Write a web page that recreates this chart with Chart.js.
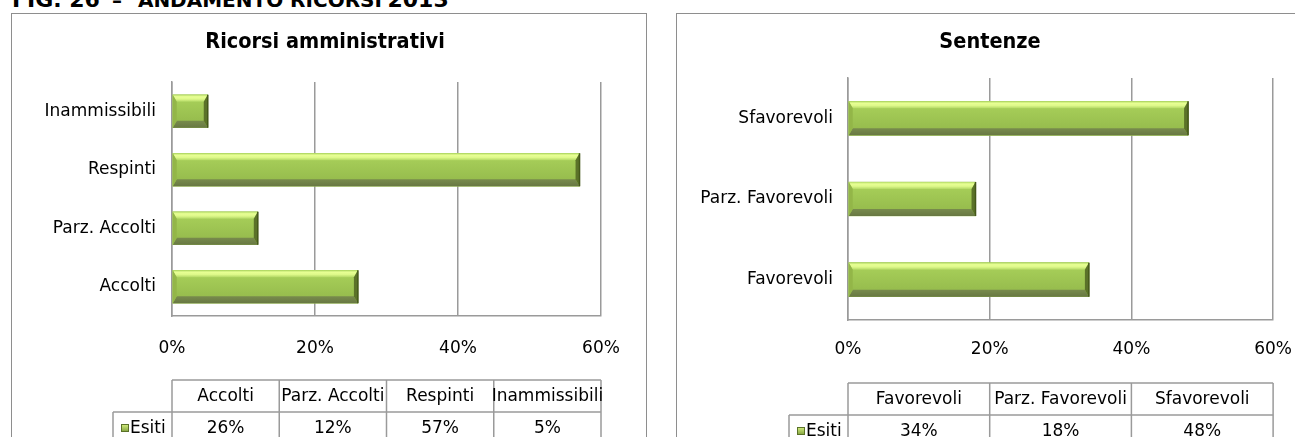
<!DOCTYPE html>
<html lang="it">
<head>
<meta charset="UTF-8">
<title>Andamento ricorsi 2013</title>
<style>
  html, body { margin: 0; padding: 0; width: 1295px; height: 437px; overflow: hidden; background: #fff; }
  .heading {
    position: absolute; left: 12px; top: -11px; line-height: 21px;
    font-family: "DejaVu Sans", sans-serif; font-weight: bold; white-space: nowrap; color: #000;
  }
  .heading .big { font-size: 22px; }
  .heading .small { font-size: 20px; }
  .heading .dash { margin-left: 12px; }
  .heading .caps { margin-left: 16px; }
  .box { position: absolute; top: 13px; width: 634px; height: 440px; border: 1px solid #8e8e8e; }
  #boxLeft { left: 11px; }
  #boxRight { left: 676px; }
  canvas { display: block; }
</style>
</head>
<body>
  <div class="heading"><span class="big">FIG. 26</span><span class="small dash">–</span><span class="small caps">ANDAMENTO RICORSI</span> <span class="big">2013</span></div>
  <div class="box" id="boxLeft"><canvas id="ricorsiChart" width="634" height="440"></canvas></div>
  <div class="box" id="boxRight"><canvas id="sentenzeChart" width="634" height="440"></canvas></div>

<script src="https://cdn.jsdelivr.net/npm/chart.js"></script>
<script>
  // values in percent
  const seriesName = 'Esiti';
  const ricorsiCategories = ['Accolti', 'Parz. Accolti', 'Respinti', 'Inammissibili'];
  const ricorsiValues = [26, 12, 57, 5];
  const sentenzeCategories = ['Favorevoli', 'Parz. Favorevoli', 'Sfavorevoli'];
  const sentenzeValues = [34, 18, 48];
  const axisTicks = [0, 20, 40, 60];

  const FONT = '"DejaVu Sans", sans-serif';
  const TITLE_FONT = '"DejaVu Sans Condensed", "DejaVu Sans", sans-serif';
  const GRID = '#9a9a9a';

  // chart title centred on the whole frame, not on the plot area
  const frameTitle = {
    id: 'frameTitle',
    afterDraw(chart, args, opts) {
      const ctx = chart.ctx;
      ctx.save();
      ctx.font = 'bold 21.5px ' + TITLE_FONT;
      ctx.fillStyle = '#000';
      ctx.textAlign = 'center';
      ctx.textBaseline = 'middle';
      ctx.fillText(opts.text, opts.x, opts.y);
      ctx.restore();
    }
  };

  // bevelled green bars, drawn over the plain bars Chart.js lays out
  const bevelBars = {
    id: 'bevelBars',
    afterDatasetsDraw(chart) {
      const ctx = chart.ctx;
      chart.getDatasetMeta(0).data.forEach(bar => {
        const p = bar.getProps(['x', 'y', 'base', 'height'], true);
        const x0 = p.base, x1 = p.x;
        const yt = p.y - p.height / 2, yb = p.y + p.height / 2;
        const bt = 7, bb = 7, bs = 4;
        ctx.save();

        let g = ctx.createLinearGradient(0, yt, 0, yb);
        g.addColorStop(0, '#aad25b');
        g.addColorStop(1, '#92b74a');
        ctx.fillStyle = g;
        ctx.fillRect(x0, yt, x1 - x0, yb - yt);

        const quad = (pts, fill) => {
          ctx.beginPath();
          ctx.moveTo(pts[0][0], pts[0][1]);
          for (let i = 1; i < pts.length; i++) ctx.lineTo(pts[i][0], pts[i][1]);
          ctx.closePath();
          ctx.fillStyle = fill;
          ctx.fill();
        };

        // top highlight
        g = ctx.createLinearGradient(0, yt, 0, yt + bt);
        g.addColorStop(0, '#b2da66');
        g.addColorStop(0.28, '#e8ff94');
        g.addColorStop(0.6, '#def98a');
        g.addColorStop(1, '#b3d865');
        quad([[x0, yt], [x1, yt], [x1 - bs, yt + bt], [x0 + bs, yt + bt]], g);
        // bottom shadow
        g = ctx.createLinearGradient(0, yb - bb, 0, yb);
        g.addColorStop(0, '#788b4c');
        g.addColorStop(1, '#687843');
        quad([[x0, yb], [x1, yb], [x1 - bs, yb - bb], [x0 + bs, yb - bb]], g);
        // right end
        quad([[x1, yt], [x1, yb], [x1 - bs, yb - bb], [x1 - bs, yt + bt]], '#5b7229');
        // left end
        quad([[x0, yt], [x0, yb], [x0 + bs, yb - bb], [x0 + bs, yt + bt]], '#93b648');

        ctx.strokeStyle = '#44571a';
        ctx.lineWidth = 1.5;
        ctx.beginPath();
        ctx.moveTo(x1, yt);
        ctx.lineTo(x1, yb);
        ctx.stroke();
        ctx.restore();
      });
    }
  };

  // data table under the axis, columns aligned with the plot area
  const dataTable = {
    id: 'dataTable',
    afterDraw(chart, args, opts) {
      const { ctx, chartArea } = chart;
      const labels = chart.data.labels;
      const values = chart.data.datasets[0].data;
      const n = labels.length;
      const colW = (chartArea.right - chartArea.left) / n;
      const top = opts.top, mid = opts.top + opts.rowH, bottom = mid + opts.rowH;

      ctx.save();
      ctx.strokeStyle = GRID;
      ctx.lineWidth = 1.5;
      const line = (ax, ay, bx, by) => {
        ctx.beginPath(); ctx.moveTo(ax, ay); ctx.lineTo(bx, by); ctx.stroke();
      };
      line(chartArea.left, top, chartArea.right, top);
      line(opts.labelLeft, mid, chartArea.right, mid);
      line(opts.labelLeft, bottom, chartArea.right, bottom);
      line(opts.labelLeft, mid, opts.labelLeft, bottom);
      for (let i = 0; i <= n; i++) {
        const x = chartArea.left + i * colW;
        line(x, top, x, bottom);
      }

      ctx.fillStyle = '#000';
      ctx.font = '17px ' + FONT;
      ctx.textAlign = 'center';
      ctx.textBaseline = 'middle';
      for (let i = 0; i < n; i++) {
        const cx = chartArea.left + (i + 0.5) * colW;
        ctx.fillText(labels[i], cx, top + opts.rowH / 2 + 1);
        ctx.fillText(values[i] + '%', cx, mid + opts.rowH / 2 + 1);
      }

      // legend key + series name
      const ky = mid + opts.rowH / 2 - 4;
      const kx = opts.labelLeft + 8;
      const g = ctx.createLinearGradient(0, ky, 0, ky + 8);
      g.addColorStop(0, '#d8f283');
      g.addColorStop(1, '#7f9f3c');
      ctx.fillStyle = g;
      ctx.fillRect(kx, ky, 8, 8);
      ctx.strokeStyle = '#5b7229';
      ctx.lineWidth = 1;
      ctx.strokeRect(kx + 0.5, ky + 0.5, 7, 7);
      ctx.fillStyle = '#000';
      ctx.textAlign = 'left';
      ctx.fillText(seriesName, kx + 9, mid + opts.rowH / 2 + 1);
      ctx.restore();
    }
  };

  function makeChart(id, title, categories, values, geo) {
    return new Chart(document.getElementById(id), {
      type: 'bar',
      data: {
        labels: categories,
        datasets: [{
          label: seriesName,
          data: values,
          backgroundColor: '#9ec453',
          borderWidth: 0,
          barThickness: geo.bar
        }]
      },
      options: {
        indexAxis: 'y',
        responsive: false,
        animation: false,
        layout: { padding: { left: 0, right: geo.padRight, top: geo.plotTop, bottom: geo.padBottom } },
        scales: {
          x: {
            min: 0,
            max: 60,
            afterBuildTicks: s => { s.ticks = axisTicks.map(v => ({ value: v })); },
            afterFit: s => { s.height = 40; },
            grid: { color: GRID, lineWidth: 1.5, drawTicks: false },
            border: { display: true, color: GRID, width: 1.5 },
            ticks: {
              padding: geo.tickPad,
              color: '#000',
              font: { family: FONT, size: 17 },
              callback: v => v + '%'
            }
          },
          y: {
            reverse: true,
            afterFit: s => { s.width = geo.yWidth; },
            grid: { display: false, drawTicks: false },
            border: { display: true, color: GRID, width: 1.5 },
            ticks: { padding: geo.labelPad, color: '#000', font: { family: FONT, size: 17 } }
          }
        },
        plugins: {
          legend: { display: false },
          tooltip: { enabled: false },
          title: { display: false },
          frameTitle: { text: title, x: 313, y: 28 },
          dataTable: { top: geo.tableTop, rowH: 32, labelLeft: geo.labelLeft }
        }
      },
      plugins: [frameTitle, bevelBars, dataTable]
    });
  }

  makeChart('ricorsiChart', 'Ricorsi amministrativi', ricorsiCategories, ricorsiValues, {
    plotTop: 68, yWidth: 160, padRight: 45, padBottom: 98, tickPad: 22,
    labelPad: 16, bar: 33, tableTop: 366, labelLeft: 101
  });

  makeChart('sentenzeChart', 'Sentenze', sentenzeCategories, sentenzeValues, {
    plotTop: 64, yWidth: 171, padRight: 34, padBottom: 94, tickPad: 19,
    labelPad: 15, bar: 34, tableTop: 369, labelLeft: 112
  });
</script>
</body>
</html>
